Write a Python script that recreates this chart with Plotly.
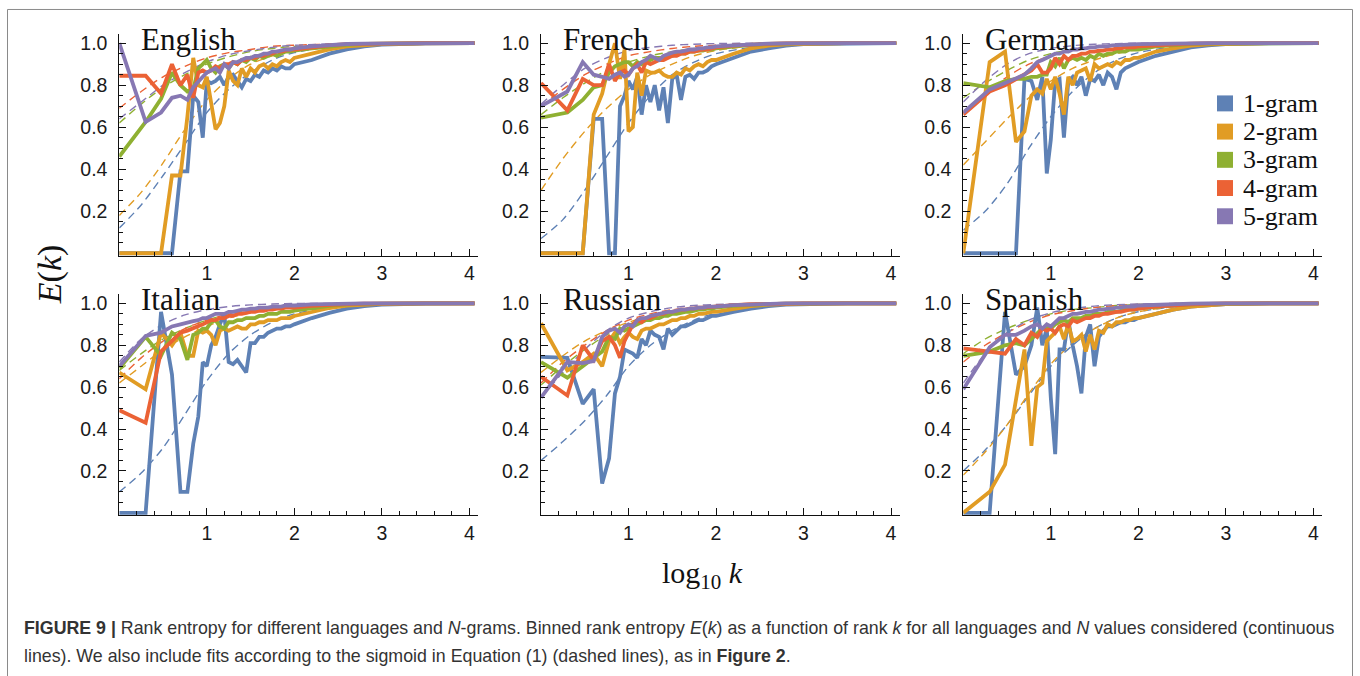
import plotly.graph_objects as go

W, H = 1360, 676

# ---------------- data ----------------
LOG_K = [0.0, 0.301, 0.477, 0.602, 0.699, 0.778, 0.845, 0.903, 0.954, 1.0,
         1.05, 1.1, 1.15, 1.2, 1.25, 1.3, 1.35, 1.4, 1.45, 1.5,
         1.55, 1.6, 1.65, 1.7, 1.75, 1.8, 1.85, 1.9, 1.95, 2.0,
         2.2, 2.4, 2.6, 2.8, 3.0, 3.5, 4.06]
FIT_X = [0, 0.25, 0.5, 0.75, 1.0, 1.25, 1.5, 1.75, 2.0, 2.5, 3.0, 3.5, 4.06]

LANGUAGES = ["English", "French", "German", "Italian", "Russian", "Spanish"]
SERIES = ["1-gram", "2-gram", "3-gram", "4-gram", "5-gram"]
COLORS = ["#5E81B5", "#E19C24", "#8FB032", "#EB6235", "#8778B3"]
X_TICKS = [1, 2, 3, 4]
Y_TICKS = [0.2, 0.4, 0.6, 0.8, 1.0]
Y_TICK_TEXT = ["0.2", "0.4", "0.6", "0.8", "1.0"]

# English
EN_1 = [0, 0, 0, 0, 0.39, 0.39, 0.75, 0.72, 0.55, 0.82, 0.81, 0.82, 0.84, 0.80, 0.84, 0.85, 0.82, 0.79, 0.83, 0.82,
        0.85, 0.84, 0.87, 0.86, 0.88, 0.87, 0.89, 0.88, 0.88, 0.90, 0.92, 0.95, 0.97, 0.985, 0.993, 0.999, 1.0]
EN_2 = [0, 0, 0, 0.37, 0.37, 0.65, 0.93, 0.80, 0.79, 0.84, 0.70, 0.59, 0.62, 0.70, 0.87, 0.82, 0.80, 0.88, 0.84, 0.88,
        0.86, 0.89, 0.90, 0.88, 0.90, 0.89, 0.91, 0.92, 0.91, 0.93, 0.95, 0.97, 0.985, 0.992, 0.996, 0.999, 1.0]
EN_3 = [0.46, 0.625, 0.735, 0.86, 0.80, 0.77, 0.78, 0.88, 0.90, 0.92, 0.88, 0.86, 0.89, 0.90, 0.88, 0.91, 0.90, 0.92, 0.91, 0.93,
        0.92, 0.94, 0.93, 0.94, 0.95, 0.94, 0.95, 0.96, 0.96, 0.965, 0.975, 0.985, 0.992, 0.996, 0.998, 1.0, 1.0]
EN_4 = [0.845, 0.845, 0.76, 0.90, 0.80, 0.85, 0.74, 0.86, 0.87, 0.86, 0.87, 0.89, 0.88, 0.90, 0.90, 0.91, 0.90, 0.92, 0.92, 0.93,
        0.93, 0.94, 0.94, 0.95, 0.95, 0.96, 0.96, 0.965, 0.97, 0.97, 0.98, 0.99, 0.995, 0.997, 0.999, 1.0, 1.0]
EN_5 = [1.0, 0.625, 0.67, 0.74, 0.75, 0.73, 0.79, 0.82, 0.84, 0.86, 0.87, 0.88, 0.86, 0.90, 0.88, 0.91, 0.91, 0.92, 0.93, 0.93,
        0.94, 0.94, 0.95, 0.95, 0.96, 0.96, 0.965, 0.97, 0.97, 0.975, 0.985, 0.992, 0.996, 0.998, 0.999, 1.0, 1.0]
EN_FIT_1 = [0.12, 0.23, 0.37, 0.52, 0.67, 0.78, 0.86, 0.92, 0.955, 0.987, 0.997, 1.0, 1.0]
EN_FIT_2 = [0.18, 0.29, 0.43, 0.59, 0.73, 0.83, 0.90, 0.94, 0.97, 0.99, 0.997, 1.0, 1.0]
EN_FIT_3 = [0.62, 0.71, 0.79, 0.85, 0.90, 0.935, 0.96, 0.975, 0.985, 0.995, 0.999, 1.0, 1.0]
EN_FIT_4 = [0.69, 0.77, 0.84, 0.89, 0.93, 0.955, 0.97, 0.985, 0.99, 0.997, 1.0, 1.0, 1.0]
EN_FIT_5 = [0.64, 0.72, 0.80, 0.86, 0.91, 0.945, 0.965, 0.98, 0.99, 0.997, 1.0, 1.0, 1.0]

# French
FR_1 = [0, 0, 0, 0.64, 0.64, 0.0, 0.0, 0.70, 0.75, 0.82, 0.78, 0.84, 0.66, 0.80, 0.72, 0.80, 0.68, 0.79, 0.62, 0.83,
        0.85, 0.73, 0.84, 0.85, 0.83, 0.86, 0.86, 0.87, 0.89, 0.90, 0.93, 0.96, 0.975, 0.988, 0.995, 0.999, 1.0]
FR_2 = [0, 0, 0, 0.66, 0.76, 0.90, 1.0, 0.83, 0.97, 0.58, 0.60, 0.86, 0.75, 0.87, 0.86, 0.86, 0.87, 0.85, 0.84, 0.84,
        0.86, 0.85, 0.88, 0.87, 0.89, 0.90, 0.89, 0.91, 0.92, 0.92, 0.95, 0.975, 0.988, 0.994, 0.997, 1.0, 1.0]
FR_3 = [0.645, 0.67, 0.73, 0.79, 0.80, 0.86, 0.89, 0.90, 0.91, 0.91, 0.89, 0.91, 0.90, 0.92, 0.92, 0.93, 0.93, 0.93, 0.94, 0.94,
        0.95, 0.95, 0.95, 0.96, 0.96, 0.965, 0.965, 0.97, 0.97, 0.975, 0.985, 0.992, 0.996, 0.998, 0.999, 1.0, 1.0]
FR_4 = [0.81, 0.68, 0.83, 0.80, 0.80, 0.90, 0.82, 0.86, 0.87, 0.85, 0.88, 0.90, 0.86, 0.91, 0.90, 0.91, 0.92, 0.92, 0.93, 0.94,
        0.94, 0.95, 0.95, 0.96, 0.96, 0.965, 0.97, 0.97, 0.975, 0.98, 0.988, 0.994, 0.997, 0.999, 1.0, 1.0, 1.0]
FR_5 = [0.70, 0.77, 0.91, 0.85, 0.84, 0.83, 0.85, 0.86, 0.84, 0.85, 0.88, 0.89, 0.91, 0.92, 0.94, 0.93, 0.92, 0.94, 0.95, 0.955,
        0.96, 0.96, 0.965, 0.97, 0.97, 0.975, 0.975, 0.98, 0.98, 0.985, 0.99, 0.995, 0.998, 0.999, 1.0, 1.0, 1.0]
FR_FIT_1 = [0.07, 0.16, 0.30, 0.46, 0.62, 0.75, 0.85, 0.91, 0.95, 0.985, 0.996, 0.999, 1.0]
FR_FIT_2 = [0.30, 0.45, 0.58, 0.69, 0.78, 0.85, 0.90, 0.94, 0.965, 0.99, 0.997, 1.0, 1.0]
FR_FIT_3 = [0.66, 0.74, 0.81, 0.87, 0.91, 0.94, 0.96, 0.975, 0.985, 0.995, 0.999, 1.0, 1.0]
FR_FIT_4 = [0.70, 0.78, 0.85, 0.90, 0.94, 0.96, 0.975, 0.985, 0.99, 0.997, 1.0, 1.0, 1.0]
FR_FIT_5 = [0.71, 0.80, 0.88, 0.93, 0.965, 0.98, 0.99, 0.995, 0.998, 1.0, 1.0, 1.0, 1.0]

# German
DE_1 = [0, 0, 0, 0, 0.83, 0.82, 0.73, 0.84, 0.38, 0.54, 0.82, 0.83, 0.55, 0.82, 0.84, 0.80, 0.84, 0.75, 0.83, 0.82,
        0.85, 0.80, 0.86, 0.84, 0.78, 0.86, 0.88, 0.89, 0.90, 0.91, 0.94, 0.96, 0.98, 0.99, 0.995, 0.999, 1.0]
DE_2 = [0, 0.91, 0.96, 0.53, 0.58, 0.75, 0.78, 0.76, 0.83, 0.78, 0.84, 0.76, 0.66, 0.84, 0.80, 0.86, 0.87, 0.88, 0.82, 0.90,
        0.88, 0.89, 0.90, 0.89, 0.91, 0.90, 0.92, 0.92, 0.93, 0.93, 0.96, 0.975, 0.988, 0.994, 0.997, 1.0, 1.0]
DE_3 = [0.81, 0.79, 0.82, 0.83, 0.83, 0.84, 0.84, 0.85, 0.85, 0.91, 0.89, 0.93, 0.88, 0.92, 0.93, 0.92, 0.93, 0.92, 0.94, 0.93,
        0.95, 0.94, 0.95, 0.95, 0.96, 0.96, 0.96, 0.97, 0.97, 0.97, 0.985, 0.992, 0.996, 0.998, 0.999, 1.0, 1.0]
DE_4 = [0.66, 0.77, 0.80, 0.83, 0.85, 0.87, 0.90, 0.86, 0.86, 0.88, 0.93, 0.90, 0.94, 0.92, 0.94, 0.94, 0.95, 0.95, 0.96, 0.96,
        0.965, 0.965, 0.97, 0.97, 0.975, 0.975, 0.98, 0.98, 0.98, 0.985, 0.99, 0.995, 0.998, 0.999, 1.0, 1.0, 1.0]
DE_5 = [0.67, 0.78, 0.81, 0.83, 0.85, 0.88, 0.91, 0.92, 0.93, 0.94, 0.95, 0.95, 0.96, 0.96, 0.97, 0.97, 0.975, 0.975, 0.98, 0.98,
        0.985, 0.985, 0.985, 0.99, 0.99, 0.99, 0.992, 0.993, 0.994, 0.995, 0.997, 0.999, 1.0, 1.0, 1.0, 1.0, 1.0]
DE_FIT_1 = [0.11, 0.20, 0.33, 0.50, 0.65, 0.77, 0.86, 0.92, 0.955, 0.987, 0.997, 1.0, 1.0]
DE_FIT_2 = [0.42, 0.53, 0.64, 0.74, 0.82, 0.88, 0.92, 0.95, 0.97, 0.99, 0.997, 1.0, 1.0]
DE_FIT_3 = [0.74, 0.81, 0.87, 0.92, 0.95, 0.97, 0.98, 0.99, 0.995, 1.0, 1.0, 1.0, 1.0]
DE_FIT_4 = [0.67, 0.76, 0.84, 0.90, 0.94, 0.965, 0.98, 0.99, 0.995, 1.0, 1.0, 1.0, 1.0]
DE_FIT_5 = [0.72, 0.82, 0.90, 0.95, 0.975, 0.988, 0.995, 0.998, 1.0, 1.0, 1.0, 1.0, 1.0]

# Italian
IT_1 = [0, 0, 0.96, 0.66, 0.10, 0.10, 0.33, 0.46, 0.72, 0.70, 0.80, 0.84, 0.90, 0.95, 0.72, 0.71, 0.73, 0.70, 0.67, 0.81,
        0.81, 0.84, 0.84, 0.86, 0.87, 0.88, 0.88, 0.89, 0.89, 0.90, 0.93, 0.955, 0.975, 0.987, 0.994, 0.999, 1.0]
IT_2 = [0.67, 0.59, 0.86, 0.80, 0.86, 0.75, 0.75, 0.87, 0.86, 0.87, 0.85, 0.80, 0.87, 0.88, 0.87, 0.88, 0.89, 0.88, 0.88, 0.90,
        0.90, 0.91, 0.91, 0.92, 0.92, 0.92, 0.93, 0.93, 0.93, 0.94, 0.96, 0.978, 0.99, 0.995, 0.998, 1.0, 1.0]
IT_3 = [0.69, 0.84, 0.75, 0.86, 0.83, 0.73, 0.85, 0.86, 0.88, 0.88, 0.91, 0.92, 0.89, 0.88, 0.91, 0.91, 0.92, 0.92, 0.93, 0.93,
        0.93, 0.94, 0.94, 0.95, 0.95, 0.95, 0.96, 0.96, 0.96, 0.965, 0.978, 0.988, 0.995, 0.998, 0.999, 1.0, 1.0]
IT_4 = [0.49, 0.43, 0.77, 0.82, 0.86, 0.87, 0.88, 0.89, 0.90, 0.91, 0.92, 0.92, 0.93, 0.93, 0.94, 0.94, 0.95, 0.95, 0.955, 0.96,
        0.96, 0.965, 0.965, 0.97, 0.97, 0.975, 0.975, 0.98, 0.98, 0.98, 0.988, 0.994, 0.997, 0.999, 1.0, 1.0, 1.0]
IT_5 = [0.70, 0.845, 0.86, 0.89, 0.90, 0.91, 0.915, 0.92, 0.93, 0.93, 0.94, 0.95, 0.95, 0.95, 0.96, 0.96, 0.965, 0.97, 0.97, 0.975,
        0.975, 0.98, 0.98, 0.98, 0.985, 0.985, 0.985, 0.99, 0.99, 0.99, 0.995, 0.998, 0.999, 1.0, 1.0, 1.0, 1.0]
IT_FIT_1 = [0.10, 0.19, 0.31, 0.47, 0.63, 0.76, 0.85, 0.91, 0.95, 0.985, 0.996, 1.0, 1.0]
IT_FIT_2 = [0.62, 0.70, 0.78, 0.84, 0.89, 0.93, 0.955, 0.97, 0.98, 0.995, 1.0, 1.0, 1.0]
IT_FIT_3 = [0.68, 0.76, 0.83, 0.88, 0.92, 0.95, 0.97, 0.98, 0.99, 0.997, 1.0, 1.0, 1.0]
IT_FIT_4 = [0.64, 0.74, 0.82, 0.88, 0.92, 0.95, 0.97, 0.98, 0.99, 0.997, 1.0, 1.0, 1.0]
IT_FIT_5 = [0.72, 0.83, 0.90, 0.945, 0.97, 0.985, 0.993, 0.997, 1.0, 1.0, 1.0, 1.0, 1.0]

# Russian
RU_1 = [0.745, 0.74, 0.52, 0.59, 0.14, 0.26, 0.57, 0.65, 0.78, 0.77, 0.76, 0.74, 0.83, 0.80, 0.87, 0.85, 0.84, 0.78, 0.88, 0.85,
        0.87, 0.89, 0.89, 0.90, 0.91, 0.92, 0.92, 0.93, 0.94, 0.94, 0.96, 0.975, 0.987, 0.994, 0.997, 1.0, 1.0]
RU_2 = [0.905, 0.68, 0.72, 0.76, 0.70, 0.82, 0.86, 0.81, 0.84, 0.86, 0.84, 0.83, 0.87, 0.88, 0.88, 0.89, 0.90, 0.90, 0.91, 0.92,
        0.92, 0.93, 0.93, 0.94, 0.94, 0.95, 0.95, 0.955, 0.96, 0.96, 0.975, 0.987, 0.994, 0.997, 0.999, 1.0, 1.0]
RU_3 = [0.72, 0.645, 0.70, 0.74, 0.77, 0.84, 0.83, 0.88, 0.87, 0.88, 0.89, 0.90, 0.91, 0.92, 0.92, 0.93, 0.93, 0.94, 0.94, 0.95,
        0.95, 0.955, 0.96, 0.96, 0.965, 0.97, 0.97, 0.975, 0.975, 0.98, 0.988, 0.994, 0.997, 0.999, 1.0, 1.0, 1.0]
RU_4 = [0.65, 0.56, 0.80, 0.73, 0.82, 0.84, 0.80, 0.74, 0.82, 0.86, 0.90, 0.92, 0.91, 0.93, 0.93, 0.94, 0.95, 0.95, 0.96, 0.96,
        0.965, 0.97, 0.97, 0.975, 0.975, 0.98, 0.98, 0.982, 0.985, 0.985, 0.992, 0.996, 0.998, 1.0, 1.0, 1.0, 1.0]
RU_5 = [0.55, 0.72, 0.715, 0.725, 0.84, 0.87, 0.88, 0.86, 0.89, 0.90, 0.89, 0.92, 0.93, 0.93, 0.94, 0.945, 0.95, 0.955, 0.96, 0.96,
        0.965, 0.97, 0.97, 0.975, 0.975, 0.98, 0.98, 0.985, 0.985, 0.985, 0.992, 0.996, 0.998, 1.0, 1.0, 1.0, 1.0]
RU_FIT_1 = [0.25, 0.34, 0.44, 0.56, 0.70, 0.80, 0.87, 0.92, 0.955, 0.987, 0.997, 1.0, 1.0]
RU_FIT_2 = [0.67, 0.75, 0.82, 0.87, 0.91, 0.94, 0.96, 0.975, 0.985, 0.996, 1.0, 1.0, 1.0]
RU_FIT_3 = [0.61, 0.70, 0.78, 0.85, 0.90, 0.935, 0.96, 0.975, 0.985, 0.996, 1.0, 1.0, 1.0]
RU_FIT_4 = [0.62, 0.72, 0.80, 0.87, 0.92, 0.95, 0.97, 0.98, 0.99, 0.997, 1.0, 1.0, 1.0]
RU_FIT_5 = [0.55, 0.67, 0.78, 0.87, 0.93, 0.96, 0.98, 0.99, 0.995, 1.0, 1.0, 1.0, 1.0]

# Spanish
ES_1 = [0, 0, 0.96, 0.66, 0.70, 0.80, 0.98, 0.80, 0.88, 0.55, 0.28, 0.78, 0.78, 0.92, 0.80, 0.70, 0.57, 0.84, 0.90, 0.70,
        0.84, 0.87, 0.89, 0.89, 0.90, 0.91, 0.91, 0.92, 0.92, 0.93, 0.95, 0.97, 0.985, 0.993, 0.997, 1.0, 1.0]
ES_2 = [0, 0.10, 0.23, 0.55, 0.78, 0.32, 0.60, 0.62, 0.82, 0.84, 0.86, 0.89, 0.83, 0.90, 0.82, 0.83, 0.85, 0.77, 0.85, 0.78,
        0.87, 0.86, 0.90, 0.89, 0.91, 0.91, 0.92, 0.92, 0.93, 0.93, 0.95, 0.97, 0.985, 0.993, 0.997, 1.0, 1.0]
ES_3 = [0.75, 0.77, 0.80, 0.81, 0.80, 0.83, 0.86, 0.88, 0.89, 0.88, 0.90, 0.91, 0.92, 0.91, 0.93, 0.93, 0.93, 0.94, 0.94, 0.95,
        0.95, 0.95, 0.96, 0.96, 0.96, 0.965, 0.97, 0.97, 0.97, 0.975, 0.985, 0.992, 0.996, 0.998, 0.999, 1.0, 1.0]
ES_4 = [0.785, 0.77, 0.76, 0.83, 0.80, 0.86, 0.84, 0.88, 0.87, 0.88, 0.86, 0.89, 0.90, 0.89, 0.92, 0.91, 0.92, 0.93, 0.93, 0.94,
        0.94, 0.95, 0.95, 0.955, 0.96, 0.96, 0.965, 0.97, 0.97, 0.975, 0.985, 0.992, 0.996, 0.998, 1.0, 1.0, 1.0]
ES_5 = [0.59, 0.79, 0.85, 0.85, 0.87, 0.89, 0.90, 0.88, 0.90, 0.89, 0.91, 0.93, 0.93, 0.94, 0.95, 0.95, 0.955, 0.96, 0.96, 0.965,
        0.97, 0.97, 0.975, 0.975, 0.98, 0.98, 0.985, 0.985, 0.985, 0.99, 0.994, 0.997, 0.999, 1.0, 1.0, 1.0, 1.0]
ES_FIT_1 = [0.20, 0.30, 0.42, 0.56, 0.70, 0.80, 0.88, 0.93, 0.96, 0.988, 0.997, 1.0, 1.0]
ES_FIT_2 = [0.18, 0.29, 0.42, 0.57, 0.71, 0.81, 0.88, 0.93, 0.96, 0.988, 0.997, 1.0, 1.0]
ES_FIT_3 = [0.76, 0.83, 0.88, 0.92, 0.95, 0.97, 0.98, 0.99, 0.995, 1.0, 1.0, 1.0, 1.0]
ES_FIT_4 = [0.72, 0.80, 0.86, 0.91, 0.945, 0.965, 0.98, 0.99, 0.995, 1.0, 1.0, 1.0, 1.0]
ES_FIT_5 = [0.62, 0.76, 0.86, 0.92, 0.955, 0.975, 0.987, 0.994, 0.997, 1.0, 1.0, 1.0, 1.0]

CAPTION_1 = ("<b>FIGURE 9 |</b> Rank entropy for different languages and <i>N</i>-grams. Binned rank entropy "
             "<i>E</i>(<i>k</i>) as a function of rank <i>k</i> for all languages and <i>N</i> values considered (continuous")
CAPTION_2 = ("lines). We also include fits according to the sigmoid in Equation (1) (dashed lines), as in <b>Figure 2</b>.")

PANEL_DATA = [
    ([EN_1, EN_2, EN_3, EN_4, EN_5], [EN_FIT_1, EN_FIT_2, EN_FIT_3, EN_FIT_4, EN_FIT_5]),
    ([FR_1, FR_2, FR_3, FR_4, FR_5], [FR_FIT_1, FR_FIT_2, FR_FIT_3, FR_FIT_4, FR_FIT_5]),
    ([DE_1, DE_2, DE_3, DE_4, DE_5], [DE_FIT_1, DE_FIT_2, DE_FIT_3, DE_FIT_4, DE_FIT_5]),
    ([IT_1, IT_2, IT_3, IT_4, IT_5], [IT_FIT_1, IT_FIT_2, IT_FIT_3, IT_FIT_4, IT_FIT_5]),
    ([RU_1, RU_2, RU_3, RU_4, RU_5], [RU_FIT_1, RU_FIT_2, RU_FIT_3, RU_FIT_4, RU_FIT_5]),
    ([ES_1, ES_2, ES_3, ES_4, ES_5], [ES_FIT_1, ES_FIT_2, ES_FIT_3, ES_FIT_4, ES_FIT_5]),
]

# ---------------- layout geometry (pixels) ----------------
X_RANGE = [0, 4.1]
Y_RANGE = [-0.012, 1.045]
COL_X0 = [119.3, 541.0, 963.3]          # pixel of x=0
PX_PER_X = 87.5
ROW_Y0 = [252.0, 512.3]                 # pixel of y=0
PX_PER_Y = [210.7, 210.0]

SANS = "Liberation Sans, Arial, sans-serif"
SERIF = "Liberation Serif, Times New Roman, serif"

fig = go.Figure()
layout = {}
annotations = []
shapes = []

minor_x = [round(0.2 * i, 2) for i in range(1, 21) if i % 5 != 0]
minor_y = [round(0.05 * i, 2) for i in range(1, 21) if i % 4 != 0]

for p, lang in enumerate(LANGUAGES):
    r, c = divmod(p, 3)
    idx = p + 1
    xa = "x" if idx == 1 else f"x{idx}"
    ya = "y" if idx == 1 else f"y{idx}"
    x0px = COL_X0[c] + X_RANGE[0] * PX_PER_X
    x1px = COL_X0[c] + X_RANGE[1] * PX_PER_X
    ybot = ROW_Y0[r] - Y_RANGE[0] * PX_PER_Y[r]
    ytop = ROW_Y0[r] - Y_RANGE[1] * PX_PER_Y[r]
    axis_common = dict(showgrid=False, zeroline=False, showline=True, linecolor="#111", linewidth=1,
                       ticks="inside", ticklen=7, tickwidth=1, tickcolor="#111",
                       tickfont=dict(family=SANS, size=19.5, color="#1a1a1a"))
    layout["xaxis" if idx == 1 else f"xaxis{idx}"] = dict(
        axis_common, domain=[x0px / W, x1px / W], range=X_RANGE, anchor=ya,
        tickvals=X_TICKS, ticktext=[str(t) for t in X_TICKS], ticklabelstandoff=0,
        minor=dict(tickvals=minor_x, ticks="inside", ticklen=4, tickcolor="#111", tickwidth=1))
    layout["yaxis" if idx == 1 else f"yaxis{idx}"] = dict(
        axis_common, domain=[1 - ybot / H, 1 - ytop / H], range=Y_RANGE, anchor=xa,
        tickvals=Y_TICKS, ticktext=Y_TICK_TEXT, ticklabelstandoff=7,
        minor=dict(tickvals=minor_y, ticks="inside", ticklen=4, tickcolor="#111", tickwidth=1))

    solids, fits = PANEL_DATA[p]
    for s in range(5):
        fig.add_trace(go.Scatter(x=FIT_X, y=fits[s], mode="lines", xaxis=xa, yaxis=ya,
                                 line=dict(color=COLORS[s], width=1.4, dash="8px,5px", shape="spline", smoothing=0.8),
                                 showlegend=False, hoverinfo="skip"))
    for s in range(5):
        fig.add_trace(go.Scatter(x=LOG_K, y=solids[s], mode="lines", xaxis=xa, yaxis=ya,
                                 line=dict(color=COLORS[s], width=3.8), name=SERIES[s],
                                 showlegend=False))

    # panel title
    annotations.append(dict(text=lang, xref="paper", yref="paper",
                            x=(COL_X0[c] + 20) / W, y=1 - (ROW_Y0[r] - 1.0 * PX_PER_Y[r] - 4) / H,
                            xanchor="left", yanchor="middle", showarrow=False,
                            font=dict(family=SERIF, size=31, color="#111")))

# legend (manual, inside German panel)
for s in range(5):
    yc = 101.7 + s * 28.3
    shapes.append(dict(type="rect", xref="paper", yref="paper",
                       x0=1217 / W, x1=1233 / W, y0=1 - (yc + 8) / H, y1=1 - (yc - 8) / H,
                       fillcolor=COLORS[s], line=dict(width=0)))
    annotations.append(dict(text=SERIES[s], xref="paper", yref="paper", x=1241 / W, y=1 - yc / H,
                            xanchor="left", yanchor="middle", showarrow=False,
                            font=dict(family=SERIF, size=26, color="#111")))

# axis titles
annotations.append(dict(text="<i>E</i>(<i>k</i>)", xref="paper", yref="paper", x=50 / W, y=1 - 273 / H,
                        textangle=-90, showarrow=False, xanchor="center", yanchor="middle",
                        font=dict(family=SERIF, size=34, color="#111")))
annotations.append(dict(text="log<sub>10</sub> <i>k</i>", xref="paper", yref="paper", x=702 / W, y=1 - 575 / H,
                        showarrow=False, xanchor="center", yanchor="middle",
                        font=dict(family=SERIF, size=30, color="#111")))

# caption
annotations.append(dict(text=CAPTION_1, xref="paper", yref="paper", x=22 / W, y=1 - 628 / H,
                        showarrow=False, xanchor="left", yanchor="middle",
                        font=dict(family=SANS, size=17.8, color="#333")))
annotations.append(dict(text=CAPTION_2, xref="paper", yref="paper", x=22 / W, y=1 - 656 / H,
                        showarrow=False, xanchor="left", yanchor="middle",
                        font=dict(family=SANS, size=17.8, color="#333")))

# outer frame (left, top, right)
frame_col = "#8a8a8a"
shapes.append(dict(type="line", xref="paper", yref="paper", x0=7.5 / W, x1=7.5 / W, y0=0, y1=1 - 7.5 / H,
                   line=dict(color=frame_col, width=1)))
shapes.append(dict(type="line", xref="paper", yref="paper", x0=7.5 / W, x1=1352.5 / W, y0=1 - 7.5 / H, y1=1 - 7.5 / H,
                   line=dict(color=frame_col, width=1)))
shapes.append(dict(type="line", xref="paper", yref="paper", x0=1352.5 / W, x1=1352.5 / W, y0=0, y1=1 - 7.5 / H,
                   line=dict(color=frame_col, width=1)))

fig.update_layout(width=W, height=H, margin=dict(l=0, r=0, t=0, b=0),
                  paper_bgcolor="white", plot_bgcolor="white", showlegend=False,
                  annotations=annotations, shapes=shapes, **layout)

fig.write_html("out.html", include_plotlyjs=True, config={"displayModeBar": False})
